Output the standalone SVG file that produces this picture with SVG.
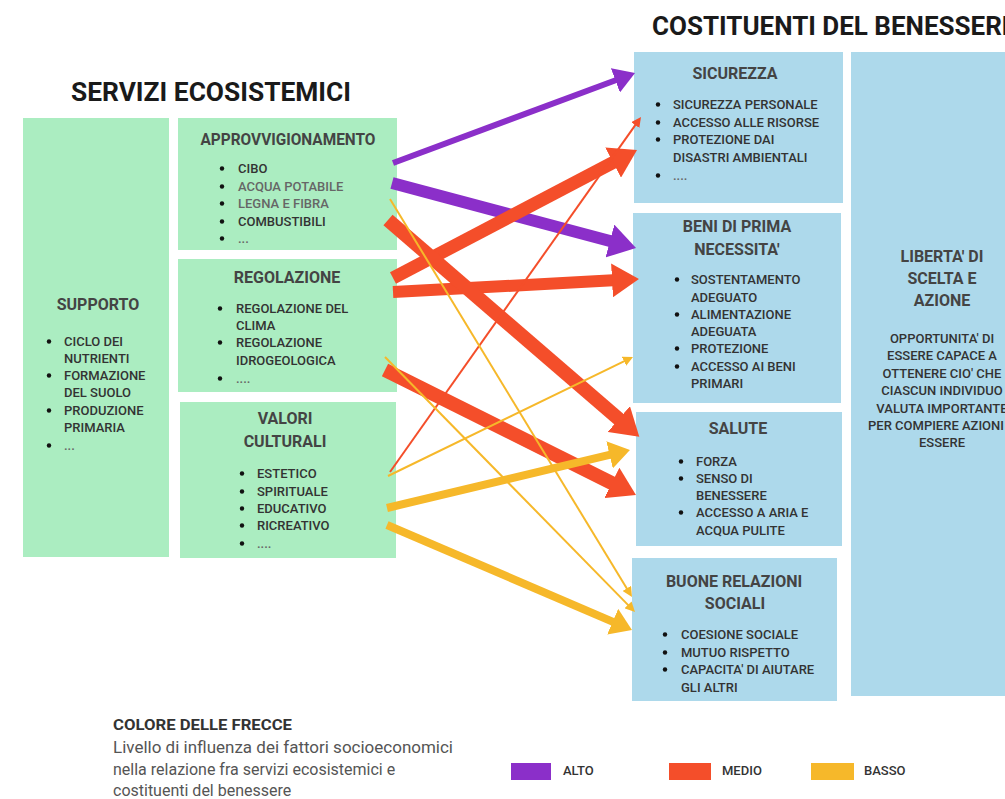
<svg xmlns="http://www.w3.org/2000/svg" width="1005" height="799" viewBox="0 0 1005 799">
<style>
.g{fill:#abedc1}
.bl{fill:#add9eb}
.title{font-family:Roboto,"Liberation Sans",sans-serif;font-weight:700;font-size:26px;fill:#1a1a1a}
.h{font-family:Roboto,"Liberation Sans",sans-serif;font-weight:700;font-size:16px;fill:#444;text-anchor:middle}
.t{font-family:Roboto,"Liberation Sans",sans-serif;font-weight:500;font-size:13px;fill:#333}
.tl{fill:#666}
.tc{text-anchor:middle}
.d{fill:#111}
.lt{font-family:Roboto,"Liberation Sans",sans-serif;font-weight:700;font-size:15px;fill:#333}
.lb{font-family:Roboto,"Liberation Sans",sans-serif;font-size:16px;fill:#555}
.pur{stroke:#8b2fc9;fill:none}
.red{stroke:#f44e2a;fill:none}
.yel{stroke:#f6b82a;fill:none}
</style>
<defs>
<marker id="mPurS" markerUnits="userSpaceOnUse" markerWidth="22" markerHeight="26" refX="1" refY="13" orient="auto"><path d="M0,0 L21,13 L0,26 z" fill="#8b2fc9"/></marker>
<marker id="mPurL" markerUnits="userSpaceOnUse" markerWidth="28" markerHeight="34" refX="1" refY="17" orient="auto"><path d="M0,0 L27,17 L0,34 z" fill="#8b2fc9"/></marker>
<marker id="mRedL" markerUnits="userSpaceOnUse" markerWidth="28" markerHeight="34" refX="1" refY="17" orient="auto"><path d="M0,0 L27,17 L0,34 z" fill="#f44e2a"/></marker>
<marker id="mRedT" markerUnits="userSpaceOnUse" markerWidth="11" markerHeight="10" refX="1" refY="5" orient="auto"><path d="M0,0 L10,5 L0,10 z" fill="#f44e2a"/></marker>
<marker id="mYelT" markerUnits="userSpaceOnUse" markerWidth="11" markerHeight="10" refX="1" refY="5" orient="auto"><path d="M0,0 L10,5 L0,10 z" fill="#f6b82a"/></marker>
<marker id="mYelM" markerUnits="userSpaceOnUse" markerWidth="22" markerHeight="28" refX="1" refY="14" orient="auto"><path d="M0,0 L21,14 L0,28 z" fill="#f6b82a"/></marker>
</defs>
<rect width="1005" height="799" fill="#ffffff"/>

<text class="title" x="71" y="101" textLength="280" lengthAdjust="spacingAndGlyphs">SERVIZI ECOSISTEMICI</text>
<text class="title" x="652" y="35" font-size="25.5">COSTITUENTI DEL BENESSERE</text>

<g id="supporto">
<rect class="g" x="23" y="118" width="146" height="439"/>
<text class="h" x="98" y="310">SUPPORTO</text>
<circle class="d" cx="49" cy="341.5" r="2.2"/><circle class="d" cx="49" cy="375.5" r="2.2"/><circle class="d" cx="49" cy="410.5" r="2.2"/><circle class="d" cx="49" cy="445.5" r="2.2"/>
<text class="t" x="64" y="346">CICLO DEI</text>
<text class="t" x="64" y="363">NUTRIENTI</text>
<text class="t" x="64" y="380">FORMAZIONE</text>
<text class="t" x="64" y="397">DEL SUOLO</text>
<text class="t" x="64" y="415">PRODUZIONE</text>
<text class="t" x="64" y="432">PRIMARIA</text>
<text class="t tl" x="64" y="450">...</text>
</g>

<g id="approvvigionamento">
<rect class="g" x="178" y="118" width="219" height="132"/>
<text class="h" x="288" y="145" textLength="175" lengthAdjust="spacingAndGlyphs">APPROVVIGIONAMENTO</text>
<circle class="d" cx="222" cy="168.5" r="2.2"/><circle class="d" cx="222" cy="186.5" r="2.2"/><circle class="d" cx="222" cy="203.5" r="2.2"/><circle class="d" cx="222" cy="221.5" r="2.2"/><circle class="d" cx="222" cy="238.5" r="2.2"/>
<text class="t" x="238" y="173">CIBO</text>
<text class="t tl" x="238" y="191">ACQUA POTABILE</text>
<text class="t tl" x="238" y="208">LEGNA E FIBRA</text>
<text class="t" x="238" y="226">COMBUSTIBILI</text>
<text class="t tl" x="238" y="243">...</text>
</g>

<g id="regolazione">
<rect class="g" x="178" y="259" width="219" height="133"/>
<text class="h" x="287" y="283">REGOLAZIONE</text>
<circle class="d" cx="220" cy="308.5" r="2.2"/><circle class="d" cx="220" cy="342.5" r="2.2"/><circle class="d" cx="220" cy="378.5" r="2.2"/>
<text class="t" x="236" y="313">REGOLAZIONE DEL</text>
<text class="t" x="236" y="330">CLIMA</text>
<text class="t" x="236" y="347">REGOLAZIONE</text>
<text class="t" x="236" y="365">IDROGEOLOGICA</text>
<text class="t tl" x="236" y="383">....</text>
</g>

<g id="valori-culturali">
<rect class="g" x="180" y="402" width="216" height="156"/>
<text class="h" x="285" y="424">VALORI</text>
<text class="h" x="285" y="447">CULTURALI</text>
<circle class="d" cx="242" cy="473.5" r="2.2"/><circle class="d" cx="242" cy="491.5" r="2.2"/><circle class="d" cx="242" cy="508.5" r="2.2"/><circle class="d" cx="242" cy="525.5" r="2.2"/><circle class="d" cx="242" cy="543.5" r="2.2"/>
<text class="t" x="257" y="478">ESTETICO</text>
<text class="t" x="257" y="496">SPIRITUALE</text>
<text class="t" x="257" y="513">EDUCATIVO</text>
<text class="t" x="257" y="530">RICREATIVO</text>
<text class="t tl" x="257" y="548">....</text>
</g>

<g id="sicurezza">
<rect class="bl" x="634" y="52" width="209" height="151"/>
<text class="h" x="735" y="79">SICUREZZA</text>
<circle class="d" cx="658" cy="104.5" r="2.2"/><circle class="d" cx="658" cy="122.5" r="2.2"/><circle class="d" cx="658" cy="139.5" r="2.2"/><circle class="d" cx="658" cy="175.5" r="2.2"/>
<text class="t" x="673" y="109">SICUREZZA PERSONALE</text>
<text class="t" x="673" y="127">ACCESSO ALLE RISORSE</text>
<text class="t" x="673" y="144">PROTEZIONE DAI</text>
<text class="t" x="673" y="162">DISASTRI AMBIENTALI</text>
<text class="t tl" x="673" y="180">....</text>
</g>

<g id="beni-prima-necessita">
<rect class="bl" x="633" y="213" width="208" height="190"/>
<text class="h" x="737" y="232">BENI DI PRIMA</text>
<text class="h" x="737" y="255">NECESSITA'</text>
<circle class="d" cx="677" cy="279.5" r="2.2"/><circle class="d" cx="677" cy="314.5" r="2.2"/><circle class="d" cx="677" cy="348.5" r="2.2"/><circle class="d" cx="677" cy="366.5" r="2.2"/>
<text class="t" x="691" y="284">SOSTENTAMENTO</text>
<text class="t" x="691" y="302">ADEGUATO</text>
<text class="t" x="691" y="319">ALIMENTAZIONE</text>
<text class="t" x="691" y="336">ADEGUATA</text>
<text class="t" x="691" y="353">PROTEZIONE</text>
<text class="t" x="691" y="371">ACCESSO AI BENI</text>
<text class="t" x="691" y="388">PRIMARI</text>
</g>

<g id="liberta">
<rect class="bl" x="851" y="52" width="160" height="644"/>
<text class="h" x="942" y="262">LIBERTA' DI</text>
<text class="h" x="942" y="284">SCELTA E</text>
<text class="h" x="942" y="306">AZIONE</text>
<text class="t tc" x="942" y="343">OPPORTUNITA' DI</text>
<text class="t tc" x="942" y="360">ESSERE CAPACE A</text>
<text class="t tc" x="942" y="378">OTTENERE CIO' CHE</text>
<text class="t tc" x="942" y="395">CIASCUN INDIVIDUO</text>
<text class="t tc" x="942" y="413">VALUTA IMPORTANTE</text>
<text class="t tc" x="936" y="430">PER COMPIERE AZIONI</text>
<text class="t tc" x="942" y="447">ESSERE</text>
</g>

<g id="salute">
<rect class="bl" x="636" y="412" width="206" height="134"/>
<text class="h" x="738" y="434">SALUTE</text>
<circle class="d" cx="681" cy="461.5" r="2.2"/><circle class="d" cx="681" cy="478.5" r="2.2"/><circle class="d" cx="681" cy="512.5" r="2.2"/>
<text class="t" x="696" y="466">FORZA</text>
<text class="t" x="696" y="483">SENSO DI</text>
<text class="t" x="696" y="500">BENESSERE</text>
<text class="t" x="696" y="517">ACCESSO A ARIA E</text>
<text class="t" x="696" y="535">ACQUA PULITE</text>
</g>

<g id="buone-relazioni">
<rect class="bl" x="632" y="558" width="205" height="143"/>
<text class="h" x="734" y="587">BUONE RELAZIONI</text>
<text class="h" x="735" y="609">SOCIALI</text>
<circle class="d" cx="665" cy="634.5" r="2.2"/><circle class="d" cx="665" cy="652.5" r="2.2"/><circle class="d" cx="665" cy="669.5" r="2.2"/>
<text class="t" x="681" y="639">COESIONE SOCIALE</text>
<text class="t" x="681" y="657">MUTUO RISPETTO</text>
<text class="t" x="681" y="674">CAPACITA' DI AIUTARE</text>
<text class="t" x="681" y="692">GLI ALTRI</text>
</g>

<g id="connectors">
<line class="pur" x1="393" y1="163" x2="616.3" y2="80" stroke-width="6" marker-end="url(#mPurS)"/>
<line class="pur" x1="392" y1="183" x2="610.9" y2="241.3" stroke-width="12" marker-end="url(#mPurL)"/>
<line class="red" x1="393" y1="278" x2="614" y2="162.1" stroke-width="13" marker-end="url(#mRedL)"/>
<line class="red" x1="393" y1="292" x2="613" y2="280.3" stroke-width="12" marker-end="url(#mRedL)"/>
<line class="red" x1="388" y1="220" x2="619.6" y2="419.7" stroke-width="14" marker-end="url(#mRedL)"/>
<line class="red" x1="385" y1="370" x2="612.7" y2="483.4" stroke-width="14" marker-end="url(#mRedL)"/>
<line class="red" x1="390" y1="472" x2="635.8" y2="124.3" stroke-width="2" marker-end="url(#mRedT)"/>
<line class="yel" x1="387" y1="508" x2="610.5" y2="454.6" stroke-width="8" marker-end="url(#mYelM)"/>
<line class="yel" x1="387" y1="525" x2="613.6" y2="622.1" stroke-width="8" marker-end="url(#mYelM)"/>
<line class="yel" x1="390" y1="199" x2="627.3" y2="589.3" stroke-width="2" marker-end="url(#mYelT)"/>
<line class="yel" x1="385" y1="357" x2="628.7" y2="605.6" stroke-width="2" marker-end="url(#mYelT)"/>
<line class="yel" x1="388" y1="476" x2="624.9" y2="360.9" stroke-width="2" marker-end="url(#mYelT)"/>
</g>

<g id="legenda">
<text class="lt" x="113" y="730" textLength="179" lengthAdjust="spacingAndGlyphs">COLORE DELLE FRECCE</text>
<text class="lb" x="113" y="753" textLength="340" lengthAdjust="spacingAndGlyphs">Livello di influenza dei fattori socioeconomici</text>
<text class="lb" x="113" y="775">nella relazione fra servizi ecosistemici e</text>
<text class="lb" x="113" y="796">costituenti del benessere</text>
<rect x="511" y="763" width="40" height="17" fill="#8b2fc9"/>
<text class="t" x="563" y="775" font-weight="700">ALTO</text>
<rect x="669" y="763" width="42" height="17" fill="#f44e2a"/>
<text class="t" x="722" y="775" font-weight="700">MEDIO</text>
<rect x="811" y="763" width="43" height="17" fill="#f6b82a"/>
<text class="t" x="864" y="775" font-weight="700">BASSO</text>
</g>
</svg>
